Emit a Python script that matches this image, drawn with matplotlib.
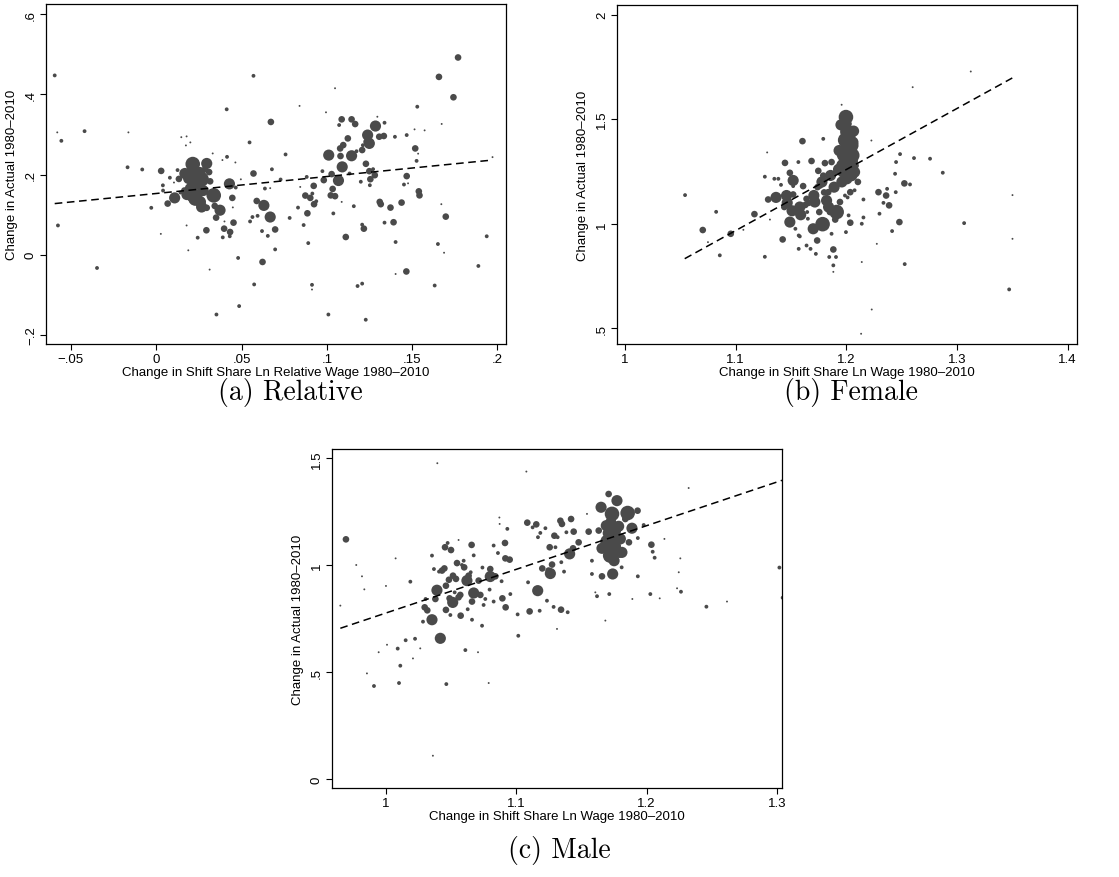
import matplotlib
matplotlib.use("Agg")
import matplotlib.pyplot as plt
import numpy as np

# ---------------- data ----------------
# weight classes: 1 tiny, 4 small, 12 medium, 34 large, 58 extra large
# Panel (a) Relative
a_x = [-0.0595, -0.058, -0.0556, -0.0576, -0.042, -0.0347, -0.0168, -0.0163, -0.0082, -0.0029,
       0.0029, 0.0039, 0.0027, 0.0067, 0.0108, 0.0104, 0.0125, 0.0133, 0.0147, 0.0165,
       0.0178, 0.0174, 0.0178, 0.0188, 0.0200, 0.0168, 0.0214, 0.0237, 0.0266, 0.0218,
       0.0253, 0.0296, 0.0316, 0.0310, 0.0286, 0.0331, 0.0259, 0.0266, 0.0296, 0.0243,
       0.0294, 0.0313, 0.0337, 0.0343, 0.0351, 0.0353, 0.0374, 0.0388, 0.0390, 0.0398,
       0.0400, 0.0413, 0.0415, 0.0429, 0.0433, 0.0431, 0.0446, 0.0449, 0.0453, 0.0464,
       0.0466, 0.0480, 0.0486, 0.0496, 0.0547, 0.0550, 0.0564, 0.0570, 0.0570, 0.0574,
       0.0589, 0.0594, 0.0620, 0.0623, 0.0631, 0.0637, 0.0654, 0.0668, 0.0672, 0.0678,
       0.0668, 0.0697, 0.0697, 0.0729, 0.0758, 0.0782, 0.0840, 0.0831, 0.0844, 0.0864,
       0.0874, 0.0882, 0.0886, 0.0891, 0.0903, 0.0915, 0.0913, 0.0913, 0.0923, 0.0925,
       0.0938, 0.0974, 0.0982, 0.0995, 0.1011, 0.1009, 0.1023, 0.1028, 0.1034, 0.1038,
       0.1048, 0.1048, 0.1068, 0.1072, 0.1078, 0.1080, 0.1087, 0.1090, 0.1096, 0.1087,
       0.1111, 0.1123, 0.1133, 0.1145, 0.1145, 0.1166, 0.1158, 0.1174, 0.1180, 0.1199,
       0.1207, 0.1211, 0.1207, 0.1217, 0.1207, 0.1228, 0.1229, 0.1233, 0.1239, 0.1249,
       0.1249, 0.1255, 0.1252, 0.1271, 0.1281, 0.1285, 0.1296, 0.1307, 0.1310, 0.1316,
       0.1334, 0.1338, 0.1338, 0.1373, 0.1391, 0.1399, 0.1403, 0.1403, 0.1438, 0.1452,
       0.1468, 0.1468, 0.1466, 0.1476, 0.1514, 0.1518, 0.1530, 0.1526, 0.1535, 0.1539,
       0.1543, 0.1573, 0.1651, 0.1657, 0.1673, 0.1671, 0.1632, 0.1687, 0.1697, 0.1742,
       0.1769, 0.1888, 0.1937, 0.1971, 0.0142, 0.0040, 0.0080,
       0.0225, 0.0245, 0.0200, 0.0230, 0.0275, 0.0190, 0.0210, 0.0255, 0.0285, 0.0180]
a_y = [0.447, 0.305, 0.284, 0.073, 0.308, -0.033, 0.218, 0.305, 0.2125, 0.117,
       0.209, 0.173, 0.052, 0.1275, 0.1417, 0.180, 0.211, 0.189, 0.293, 0.160,
       0.295, 0.2725, 0.073, 0.011, 0.280, 0.2025, 0.226, 0.198, 0.188, 0.148,
       0.192, 0.2275, 0.183, 0.206, 0.213, 0.2525, 0.132, 0.119, 0.117, 0.0425,
       0.061, -0.037, 0.148, 0.1217, 0.0925, -0.149, 0.111, 0.236, 0.0433, 0.065,
       0.083, 0.3625, 0.244, 0.1767, 0.0567, 0.046, 0.1417, 0.118, 0.080, 0.230,
       0.1675, -0.008, -0.128, 0.188, 0.280, 0.083, 0.094, 0.446, 0.2025, -0.074,
       0.134, 0.097, 0.059, -0.018, 0.123, 0.165, 0.047, 0.094, 0.331, 0.213,
       0.166, 0.063, 0.0133, 0.1875, 0.250, 0.0917, 0.371, 0.1175, 0.169, 0.074,
       0.1475, 0.194, 0.1033, 0.029, 0.1417, 0.1525, -0.075, -0.0867, 0.1717, 0.126,
       0.1333, 0.2083, 0.186, 0.355, 0.2483, -0.149, 0.148, 0.201, 0.164, 0.103,
       0.146, 0.415, 0.185, 0.3233, 0.265, 0.246, 0.3375, 0.219, 0.2733, 0.1317,
       0.0442, 0.290, 0.2025, 0.3375, 0.2467, 0.3258, 0.121, 0.258, -0.078, 0.182,
       0.261, 0.273, 0.075, 0.065, -0.072, -0.162, 0.2267, 0.2817, 0.2983, 0.2775,
       0.2083, 0.1883, 0.1733, 0.2133, 0.1983, 0.3208, 0.344, 0.2942, 0.1317, 0.126,
       0.296, 0.080, 0.329, 0.1175, 0.081, 0.294, 0.0317, -0.048, 0.130, 0.175,
       0.2983, 0.196, -0.0417, 0.178, 0.3125, 0.265, 0.369, 0.234, 0.252, 0.158,
       0.148, 0.310, 0.0267, 0.4433, 0.326, 0.126, -0.0767, 0.005, 0.095, 0.3925,
       0.4917, -0.028, 0.046, 0.2433, 0.155, 0.160, 0.192,
       0.185, 0.180, 0.165, 0.140, 0.160, 0.190, 0.210, 0.205, 0.185, 0.150]
a_w = [4, 1, 4, 4, 4, 4, 4, 1, 4, 4,
       12, 4, 1, 12, 34, 1, 4, 12, 1, 12,
       1, 1, 1, 1, 1, 34, 58, 58, 58, 58,
       58, 34, 12, 12, 12, 1, 34, 34, 12, 4,
       12, 1, 58, 12, 12, 4, 34, 1, 4, 12,
       1, 4, 4, 34, 12, 4, 12, 1, 12, 1,
       4, 4, 4, 1, 4, 4, 4, 4, 12, 4,
       12, 4, 4, 12, 34, 4, 4, 34, 12, 4,
       1, 12, 4, 4, 4, 4, 1, 4, 1, 4,
       12, 4, 12, 4, 12, 4, 4, 1, 12, 12,
       4, 4, 12, 1, 34, 4, 12, 12, 12, 4,
       12, 1, 34, 4, 12, 12, 12, 34, 12, 1,
       12, 12, 4, 12, 34, 12, 4, 4, 4, 4,
       12, 4, 4, 12, 4, 4, 12, 12, 34, 34,
       12, 12, 4, 4, 12, 34, 1, 12, 12, 12,
       12, 4, 4, 12, 12, 4, 4, 1, 12, 4,
       4, 12, 12, 1, 1, 12, 4, 4, 1, 12,
       12, 1, 4, 12, 1, 1, 4, 1, 12, 12,
       12, 4, 4, 1, 4, 4, 4,
       58, 58, 34, 58, 34, 34, 34, 34, 12, 34]

# Panel (b) Female
b_x = [1.0543, 1.0703, 1.0750, 1.0824, 1.0857, 1.0956, 1.1070, 1.1170, 1.1264, 1.1264,
       1.1285, 1.1294, 1.1310, 1.1350, 1.1365, 1.1386, 1.1410, 1.1425, 1.1446, 1.1460,
       1.1466, 1.1490, 1.1490, 1.1510, 1.1520, 1.1540, 1.1520, 1.1567, 1.1570, 1.1570,
       1.1580, 1.1588, 1.1604, 1.1580, 1.1641, 1.1641, 1.1647, 1.1653, 1.1677, 1.1686,
       1.1701, 1.1707, 1.1716, 1.1725, 1.1737, 1.1747, 1.1756, 1.1762, 1.1786, 1.1792,
       1.1792, 1.1807, 1.1822, 1.1837, 1.1846, 1.1852, 1.1858, 1.1867, 1.1867, 1.1883,
       1.1883, 1.1883, 1.1907, 1.1913, 1.1943, 1.1952, 1.1958, 1.1967, 1.1970, 1.1988,
       1.1997, 1.2000, 1.2006, 1.2018, 1.2020, 1.2021, 1.2036, 1.2045, 1.2054, 1.2066,
       1.2075, 1.2084, 1.2105, 1.2012, 1.2036, 1.2075, 1.1997, 1.2140, 1.2140, 1.2155,
       1.2155, 1.2227, 1.2230, 1.2134, 1.2276, 1.2291, 1.2300, 1.2336, 1.2360, 1.2369,
       1.2387, 1.2414, 1.2441, 1.2447, 1.2450, 1.2480, 1.2486, 1.2525, 1.2528, 1.2576,
       1.2600, 1.2612, 1.2757, 1.2872, 1.3065, 1.3125, 1.3472, 1.3502, 1.3502, 1.1890,
       1.1930, 1.1970, 1.2050, 1.1800, 1.1740, 1.1660, 1.1610, 1.1520, 1.1440, 1.1900,
       1.1990, 1.2010, 1.2030, 1.1980, 1.2040, 1.1960, 1.2000, 1.1935, 1.2060, 1.1960,
       1.1840, 1.1780, 1.1720, 1.1630]
b_y = [1.137, 0.970, 0.912, 1.057, 0.849, 0.952, 0.971, 1.046, 0.842, 1.225,
       1.341, 1.116, 1.020, 1.215, 1.126, 1.215, 1.186, 0.925, 1.291, 1.135,
       1.100, 1.2435, 1.008, 1.062, 1.207, 0.976, 1.180, 1.295, 0.944, 0.880,
       1.080, 1.043, 1.395, 0.9395, 1.119, 0.896, 1.056, 1.024, 0.880, 1.300,
       0.976, 1.135, 1.104, 0.856, 0.920, 1.253, 1.056, 1.183, 0.998, 1.230,
       1.406, 1.290, 1.111, 1.151, 0.841, 1.056, 1.231, 0.952, 1.295, 0.877,
       0.801, 0.770, 0.841, 1.056, 1.104, 1.473, 1.569, 1.350, 1.247, 1.135,
       1.510, 1.311, 1.215, 1.419, 1.478, 1.040, 1.005, 1.375, 1.327, 1.443,
       1.247, 1.278, 1.200, 1.126, 1.151, 1.160, 0.960, 1.000, 0.817, 1.116,
       1.030, 1.398, 0.590, 0.474, 0.904, 1.151, 1.048, 1.100, 1.135, 1.167,
       1.088, 0.965, 1.239, 1.151, 1.295, 1.008, 1.333, 1.193, 0.807, 1.188,
       1.653, 1.314, 1.311, 1.244, 1.003, 1.728, 0.686, 1.137, 0.928, 1.175,
       1.260, 1.285, 1.230, 1.150, 1.175, 1.100, 1.180, 1.140, 1.080, 1.020,
       1.400, 1.440, 1.360, 1.330, 1.300, 1.280, 1.260, 1.350, 1.390, 1.200,
       1.080, 1.200, 1.140, 1.090]
b_w = [4, 12, 1, 4, 4, 12, 1, 12, 4, 4,
       1, 12, 1, 4, 34, 4, 4, 12, 12, 34,
       34, 12, 34, 34, 34, 4, 4, 4, 4, 4,
       34, 34, 12, 4, 12, 4, 4, 4, 4, 12,
       34, 34, 34, 4, 12, 12, 12, 12, 58, 12,
       4, 12, 34, 12, 4, 12, 34, 4, 12, 12,
       4, 1, 4, 58, 12, 34, 1, 34, 34, 4,
       58, 58, 34, 58, 12, 4, 12, 58, 58, 34,
       34, 12, 12, 4, 12, 4, 4, 4, 1, 4,
       4, 1, 1, 1, 1, 12, 4, 4, 12, 4,
       12, 4, 4, 4, 4, 12, 4, 12, 4, 4,
       1, 4, 4, 4, 4, 1, 4, 1, 1, 34,
       34, 34, 34, 12, 12, 12, 12, 12, 12, 12,
       58, 58, 58, 58, 58, 34, 58, 34, 34, 34,
       34, 34, 12, 12]

# Panel (c) Male
c_x = [0.9650, 0.9693, 0.9772, 0.9816, 0.9834, 0.9854, 0.9908, 0.9944, 1.0000, 1.0008,
       1.0074, 1.0090, 1.0100, 1.0110, 1.0151, 1.0187, 1.0207, 1.0223, 1.0263, 1.0284,
       1.0297, 1.0304, 1.0317, 1.0353, 1.0353, 1.0360, 1.0368, 1.0379, 1.0391, 1.0394,
       1.0417, 1.0407, 1.0430, 1.0448, 1.0453, 1.0460, 1.0460, 1.0463, 1.0473, 1.0483,
       1.0488, 1.0494, 1.0499, 1.0514, 1.0512, 1.0527, 1.0537, 1.0545, 1.0557, 1.0557,
       1.0570, 1.0573, 1.0583, 1.0596, 1.0600, 1.0609, 1.0621, 1.0627, 1.0634, 1.0650,
       1.0657, 1.0660, 1.0660, 1.0673, 1.0673, 1.0706, 1.0711, 1.0724, 1.0737, 1.0740,
       1.0749, 1.0762, 1.0788, 1.0795, 1.0800, 1.0800, 1.0826, 1.0826, 1.0839, 1.0859,
       1.0870, 1.0872, 1.0887, 1.0893, 1.0913, 1.0916, 1.0918, 1.0931, 1.0949, 1.0954,
       1.1010, 1.1015, 1.1077, 1.1084, 1.1090, 1.1102, 1.1125, 1.1153, 1.1164, 1.1166,
       1.1179, 1.1184, 1.1199, 1.1223, 1.1235, 1.1248, 1.1256, 1.1261, 1.1274, 1.1286,
       1.1292, 1.1300, 1.1312, 1.1317, 1.1338, 1.1343, 1.1345, 1.1350, 1.1366, 1.1384,
       1.1394, 1.1409, 1.1420, 1.1440, 1.1435, 1.1478, 1.1542, 1.1555, 1.1580, 1.1580,
       1.1606, 1.1619, 1.1632, 1.1650, 1.1657, 1.1657, 1.1683, 1.1690, 1.1708, 1.1713,
       1.1720, 1.1734, 1.1739, 1.1740, 1.1750, 1.1760, 1.1772, 1.1785, 1.1798, 1.1808,
       1.1810, 1.1836, 1.1854, 1.1864, 1.1887, 1.1930, 1.1932, 1.1932, 1.1890, 1.1977,
       1.2036, 1.2028, 1.2046, 1.2061, 1.2100, 1.2136, 1.2233, 1.2246, 1.2258, 1.2263,
       1.2322, 1.2458, 1.2616, 1.3018, 1.3043,
       1.1700, 1.1745, 1.1760, 1.1725, 1.1790, 1.1705]
c_y = [0.811, 1.121, 1.001, 0.948, 0.887, 0.494, 0.435, 0.593, 0.903, 0.628,
       1.032, 0.610, 0.449, 0.530, 0.649, 0.923, 0.564, 0.656, 0.611, 0.736,
       0.803, 0.842, 0.789, 1.045, 0.745, 0.109, 0.982, 0.842, 0.883, 1.477,
       0.658, 0.970, 0.975, 0.985, 1.084, 0.904, 0.791, 0.444, 1.104, 0.932,
       0.845, 0.767, 1.071, 0.951, 0.826, 0.873, 0.936, 1.010, 1.118, 0.850,
       0.861, 0.764, 1.001, 1.021, 0.990, 0.603, 0.928, 0.794, 0.951, 0.967,
       1.095, 0.830, 0.745, 0.870, 1.046, 0.593, 0.928, 0.861, 0.717, 0.989,
       0.814, 0.842, 0.449, 0.886, 0.982, 0.947, 0.830, 1.092, 0.948, 1.057,
       1.223, 1.193, 0.925, 0.845, 1.104, 1.032, 0.803, 1.170, 1.026, 0.865,
       0.770, 0.670, 1.438, 1.199, 0.920, 0.784, 1.177, 1.191, 0.881, 1.131,
       0.787, 1.151, 0.985, 1.173, 0.834, 0.975, 1.084, 0.961, 1.003, 0.805,
       1.138, 1.084, 0.702, 1.131, 1.208, 0.792, 1.014, 1.193, 0.970, 1.154,
       0.780, 1.053, 1.216, 1.157, 1.079, 1.107, 1.240, 1.157, 1.021, 0.959,
       0.873, 0.855, 1.162, 1.271, 0.948, 1.079, 0.741, 1.185, 1.333, 0.865,
       1.045, 1.240, 0.959, 1.138, 1.021, 1.090, 1.302, 1.182, 1.123, 0.990,
       1.060, 1.216, 1.244, 1.107, 1.173, 1.255, 1.127, 0.948, 0.842, 1.188,
       1.096, 0.865, 1.063, 1.035, 0.845, 1.123, 0.892, 0.967, 1.032, 0.876,
       1.361, 0.806, 0.830, 0.989, 0.848,
       1.110, 1.080, 1.160, 1.200, 1.060, 1.150]
c_w = [1, 12, 1, 1, 1, 1, 4, 1, 1, 1,
       1, 4, 4, 4, 4, 4, 1, 4, 1, 4,
       12, 4, 12, 4, 34, 1, 4, 12, 34, 1,
       34, 4, 12, 12, 12, 12, 12, 4, 4, 12,
       12, 4, 12, 12, 34, 4, 12, 12, 1, 12,
       12, 12, 4, 4, 12, 4, 34, 4, 12, 4,
       12, 12, 4, 34, 4, 1, 12, 12, 4, 4,
       4, 4, 1, 4, 12, 34, 4, 4, 12, 4,
       1, 1, 4, 12, 12, 12, 12, 4, 12, 4,
       4, 4, 1, 12, 4, 12, 4, 12, 34, 4,
       4, 4, 12, 4, 4, 12, 12, 34, 12, 4,
       12, 4, 1, 4, 12, 12, 4, 12, 4, 4,
       4, 34, 12, 12, 12, 12, 1, 12, 4, 4,
       1, 4, 12, 34, 12, 34, 1, 34, 12, 4,
       58, 58, 34, 58, 34, 34, 34, 34, 34, 4,
       34, 12, 58, 12, 34, 12, 4, 4, 1, 4,
       12, 4, 4, 4, 1, 1, 1, 1, 1, 4,
       1, 4, 1, 4, 4,
       58, 58, 34, 34, 34, 34]

# Fitted lines (end points)
a_fit = dict(x0=-0.0595, x1=0.197, y0=0.1275, y1=0.236)
b_fit = dict(x0=1.054, x1=1.350, y0=0.833, y1=1.697)
c_fit = dict(x0=0.965, x1=1.3038, y0=0.705, y1=1.397)

a_xticks = [-0.05, 0, 0.05, 0.1, 0.15, 0.2]
a_xticklabels = ["\u2212.05", "0", ".05", ".1", ".15", ".2"]
a_yticks = [-0.2, 0, 0.2, 0.4, 0.6]
a_yticklabels = ["\u2212.2", "0", ".2", ".4", ".6"]
b_xticks = [1, 1.1, 1.2, 1.3, 1.4]
b_xticklabels = ["1", "1.1", "1.2", "1.3", "1.4"]
b_yticks = [0.5, 1, 1.5, 2]
b_yticklabels = [".5", "1", "1.5", "2"]
c_xticks = [1, 1.1, 1.2, 1.3]
c_xticklabels = ["1", "1.1", "1.2", "1.3"]
c_yticks = [0, 0.5, 1, 1.5]
c_yticklabels = ["0", ".5", "1", "1.5"]

xlabel_rel = "Change in Shift Share Ln Relative Wage 1980\u20132010"
xlabel_wage = "Change in Shift Share Ln Wage 1980\u20132010"
ylabel = "Change in Actual 1980\u20132010"
captions = ["(a) Relative", "(b) Female", "(c) Male"]

# ---------------- drawing ----------------
plt.rcParams['font.family'] = ['Liberation Sans', 'DejaVu Sans']
W, H = 1119, 878
fig = plt.figure(figsize=(W / 100, H / 100), dpi=100)
fig.patch.set_facecolor('white')

def px_axes(l, t, r, b):
    return fig.add_axes([l / W, 1 - b / H, (r - l) / W, (b - t) / H])

dot_color = '#4a4a4a'
k = 1.9  # marker area per weight unit (points^2)

def panel(ax, x, y, w, fit, xt, xtl, yt, ytl, xlim, ylim, xlabel):
    ax.scatter(x, y, s=np.array(w) * k, color=dot_color, linewidths=0, zorder=2)
    ax.plot([fit['x0'], fit['x1']], [fit['y0'], fit['y1']], color='black',
            linestyle=(0, (5, 3)), linewidth=1.1, zorder=3)
    ax.set_xlim(*xlim)
    ax.set_ylim(*ylim)
    ax.set_xticks(xt)
    ax.set_xticklabels(xtl, fontsize=9.5)
    ax.set_yticks(yt)
    ax.set_yticklabels(ytl, fontsize=9.5, rotation=90, va='center')
    ax.tick_params(direction='out', length=4.5, width=0.8, pad=2, colors='black')
    for sp in ax.spines.values():
        sp.set_linewidth(0.9)
        sp.set_color('black')
    ax.set_xlabel(xlabel, fontsize=9.5, labelpad=1)
    ax.set_ylabel(ylabel, fontsize=9.5, labelpad=5)

axa = px_axes(46, 5, 506, 345)
panel(axa, a_x, a_y, a_w, a_fit, a_xticks, a_xticklabels, a_yticks, a_yticklabels,
      (-0.0646, 0.205), (-0.2225, 0.625), xlabel_rel)
axb = px_axes(617, 6, 1077, 345)
panel(axb, b_x, b_y, b_w, b_fit, b_xticks, b_xticklabels, b_yticks, b_yticklabels,
      (0.9928, 1.4085), (0.425, 2.046), xlabel_wage)
axc = px_axes(332, 450, 782, 789)
panel(axc, c_x, c_y, c_w, c_fit, c_xticks, c_xticklabels, c_yticks, c_yticklabels,
      (0.9586, 1.3038), (-0.042, 1.5435), xlabel_wage)

cap_kw = dict(fontsize=20, family='cmr10', ha='center', va='center')
fig.text(290 / W, 1 - 393 / H, captions[0], **cap_kw)
fig.text(851 / W, 1 - 393 / H, captions[1], **cap_kw)
fig.text(559 / W, 1 - 851 / H, captions[2], **cap_kw)

fig.savefig('out.png', dpi=100, facecolor='white')
